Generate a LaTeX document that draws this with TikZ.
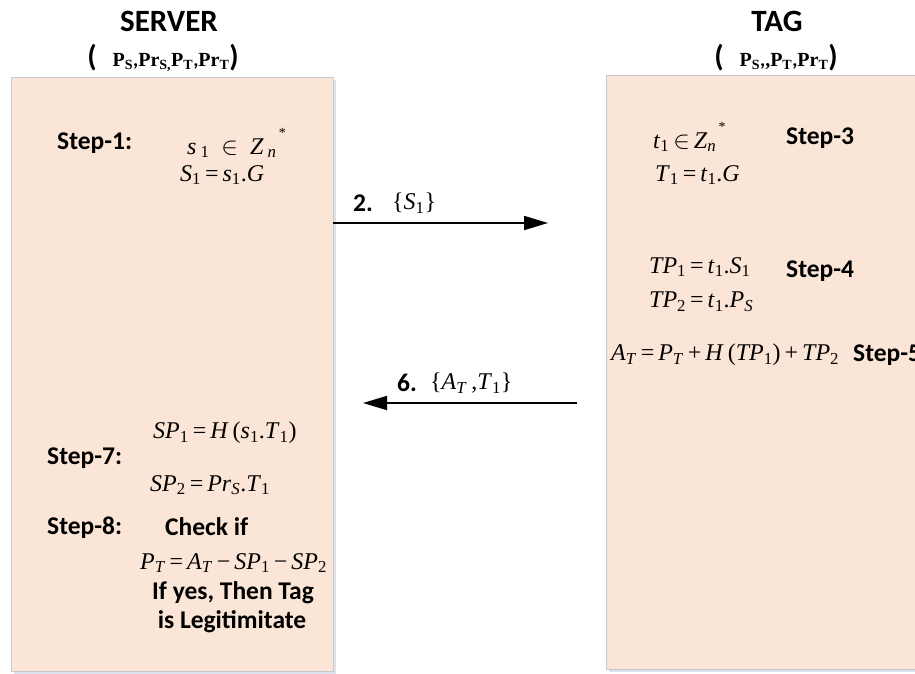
\documentclass[tikz,border=0pt]{standalone}
\usepackage{fontspec}
\setmainfont{Liberation Serif}
\newfontfamily\calib{Carlito}
\usetikzlibrary{arrows.meta}
\definecolor{boxfill}{HTML}{FBE5D6}
\definecolor{boxline}{HTML}{C9C9C9}
\definecolor{boxshadow}{HTML}{DCE3EE}
\newcommand\vi[1]{\textit{#1}}
\newcommand\sbs[1]{\textsubscript{#1}}
\newcommand\sbi[1]{\textsubscript{\textit{#1}}}
\newcommand\eqs{\,=\,}
\newcommand\strs{\raisebox{0.7em}{\fontsize{14}{14}\selectfont\,*}}
\tikzset{
  box/.style={draw=boxline, line width=1.2pt, fill=boxfill, inner sep=0, anchor=north west},
  lab/.style={font=\calib\bfseries\fontsize{25.5}{29}\selectfont, inner sep=0, anchor=west},
  title/.style={font=\calib\bfseries\fontsize{31}{34}\selectfont, inner sep=0},
  mth/.style={font=\fontsize{24}{27}\selectfont, inner sep=0, anchor=west},
  tmth/.style={font=\fontsize{24}{27}\selectfont, inner sep=0, anchor=west},
  msg/.style={line width=1.8pt, -{Triangle[length=24pt,width=14pt]}},
  par/.style={font=\calib\bfseries\fontsize{30}{32}\selectfont},
}
\begin{document}
\begin{tikzpicture}[x=1pt,y=-1pt]
\useasboundingbox (0,0) rectangle (915,673);
\clip (0,0) rectangle (915,673);
% shadows
\fill[boxshadow] (14,80) rectangle (336,674);
\fill[boxshadow] (609,78) rectangle (940,672);
% boxes
\node[box, minimum width=322pt, minimum height=594pt] (server) at (11,77) {};
\node[box, minimum width=330pt, minimum height=594pt] (tag) at (606,75) {};
% titles
\node[title] (stitle) at (169,21) {SERVER};
\node[inner sep=0] (sparam) at (163,58) {{\calib\bfseries\fontsize{30}{32}\selectfont(}\hspace{16pt}{\fontsize{20}{22}\selectfont\bfseries P\sbs{S}{\calib,}Pr\sbs{S,}P\sbs{T}{\calib,}Pr\sbs{T}}{\calib\bfseries\fontsize{30}{32}\selectfont)}};
\node[title] (ttitle) at (777,21) {TAG};
\node[inner sep=0] (tparam) at (776,58) {{\calib\bfseries\fontsize{30}{32}\selectfont(}\hspace{16pt}{\fontsize{20}{22}\selectfont\bfseries P\sbs{S}{\calib,},P\sbs{T}{\calib,}Pr\sbs{T}}{\calib\bfseries\fontsize{30}{32}\selectfont)}};
% server side
\node[lab] (st1) at (57,143) {Step-1:};
\node[mth] (s1a) at (187,143) {\vi{s}\,\sbs{1}\ \ $\in$\ \ \vi{Z}\,\sbi{n}\strs};
\node[mth] (s1b) at (180,175) {\vi{S}\sbs{1}\eqs\vi{s}\sbs{1}.\vi{G}};
\node[mth] (s7a) at (153,433) {\vi{SP}\sbs{1}\eqs\vi{H}\,(\vi{s}\sbs{1}.\vi{T}\sbs{1})};
\node[lab] (st7) at (47,458) {Step-7:};
\node[mth] (s7b) at (150,485) {\vi{SP}\sbs{2}\eqs\vi{Pr}\sbi{S}.\vi{T}\sbs{1}};
\node[lab] (st8) at (47,528) {Step-8:};
\node[lab] (chk) at (165,527) {Check if};
\node[mth] (s8) at (140,563) {\vi{P}\sbi{T}\eqs\vi{A}\sbi{T}\,−\,\vi{SP}\sbs{1}\,−\,\vi{SP}\sbs{2}};
\node[lab, anchor=center] (yes1) at (233,593) {If yes, Then Tag};
\node[lab, anchor=center] (yes2) at (232,622) {is Legitimitate};
% tag side
\node[tmth] (t3a) at (653,137) {\vi{t}\sbs{1}\,$\in$\,\vi{Z}\sbi{n}\strs};
\node[lab] (st3) at (786,138) {Step-3};
\node[tmth] (t3b) at (655,175) {\vi{T}\sbs{1}\eqs\vi{t}\sbs{1}.\vi{G}};
\node[tmth] (t4a) at (649,267) {\vi{TP}\sbs{1}\eqs\vi{t}\sbs{1}.\vi{S}\sbs{1}};
\node[lab] (st4) at (786,271) {Step-4};
\node[tmth] (t4b) at (649,302) {\vi{TP}\sbs{2}\eqs\vi{t}\sbs{1}.\vi{P}\sbi{S}};
\node[tmth] (t5) at (611,355) {\vi{A}\sbi{T}\eqs\vi{P}\sbi{T}\,+\,\vi{H}\,(\vi{TP}\sbs{1})\,+\,\vi{TP}\sbs{2}};
\node[lab] (st5) at (853,355) {Step-5};
% messages
\coordinate (m2a) at (333,223);
\coordinate (m2b) at (548,223);
\draw[msg] (m2a) -- (m2b);
\node[lab] (n2) at (353,203) {2.};
\node[tmth] (l2) at (392,203) {\{\vi{S}\sbs{1}\}};
\coordinate (m6a) at (577,403);
\coordinate (m6b) at (363,403);
\draw[msg] (m6a) -- (m6b);
\node[lab] (n6) at (397,383) {6.};
\node[tmth] (l6) at (430,383) {\{\vi{A}\sbi{T}\,,\vi{T}\sbs{1}\}};
\end{tikzpicture}
\end{document}
